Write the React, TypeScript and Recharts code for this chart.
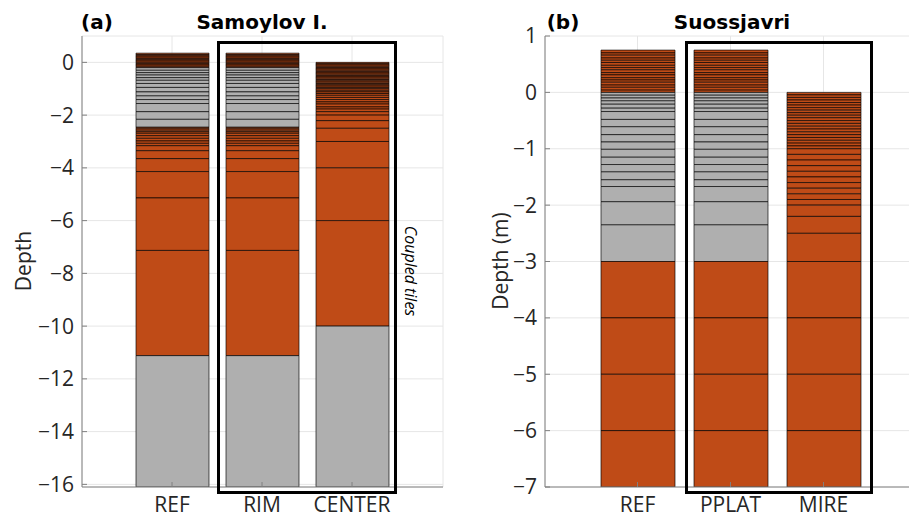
import { BarChart, Bar, XAxis, YAxis, CartesianGrid, Cell } from "recharts";

// site names on the x axis
const samoylovSites = ["REF", "RIM", "CENTER"];
const suossjavriSites = ["REF", "PPLAT", "MIRE"];

// layer boundaries in m, top to bottom
const samoylovRefBounds = [
  0.35, 0.3, 0.25, 0.2, 0.15, 0.1, 0.05, 0, -0.05, -0.1, -0.15, -0.2,
  -0.3, -0.39, -0.48, -0.58, -0.68, -0.8, -0.95, -1.12, -1.27, -1.41, -1.56, -1.87, -2.16, -2.46,
  -2.5, -2.57, -2.63, -2.69, -2.78, -2.88, -2.98, -3.07, -3.16, -3.35, -3.65, -4.14, -5.14, -7.13, -11.12,
  -16.1,
];
const samoylovRefZoneTops = [0.35, -0.2, -2.46, -11.12];
const samoylovRefZoneSoil = ["S", "G", "S", "G"];

const samoylovCenterBounds = [
  0, -0.05, -0.1, -0.15, -0.2, -0.25, -0.3, -0.35, -0.4, -0.45, -0.5, -0.55, -0.6, -0.65, -0.7,
  -0.75, -0.8, -0.85, -0.9, -0.95, -1.0, -1.06, -1.12, -1.18, -1.25, -1.33, -1.41, -1.5, -1.58,
  -1.69, -1.77, -1.87, -2.0, -2.21, -2.5, -3.0, -4.0, -6.0, -10.0, -16.1,
];
const samoylovCenterZoneTops = [0, -10];
const samoylovCenterZoneSoil = ["S", "G"];

const suossjavriRefBounds = [
  0.75, 0.7, 0.66, 0.61, 0.57, 0.53, 0.48, 0.44, 0.4, 0.35, 0.31, 0.26, 0.22, 0.18, 0.13, 0.09, 0.04, 0,
  -0.05, -0.1, -0.15, -0.21, -0.28, -0.34, -0.48, -0.61, -0.75, -0.88, -1.01, -1.15, -1.28, -1.41,
  -1.55, -1.67, -1.94, -2.35, -3.0, -4.0, -5.0, -6.0, -7.0,
];
const suossjavriRefZoneTops = [0.75, 0, -3];
const suossjavriRefZoneSoil = ["S", "G", "S"];

const suossjavriMireBounds = [
  0, -0.045, -0.09, -0.135, -0.18, -0.225, -0.27, -0.315, -0.36, -0.405, -0.45, -0.5, -0.55, -0.6,
  -0.65, -0.7, -0.75, -0.8, -0.85, -0.9, -0.95, -1.0, -1.1, -1.2, -1.3, -1.4, -1.5, -1.6, -1.7, -1.8,
  -1.9, -2.0, -2.2, -2.5, -3.0, -4.0, -5.0, -6.0, -7.0,
];
const suossjavriMireZoneTops = [0];
const suossjavriMireZoneSoil = ["S"];

const samoylovTicks = [-16, -14, -12, -10, -8, -6, -4, -2, 0];
const suossjavriTicks = [-7, -6, -5, -4, -3, -2, -1, 0, 1];

const soilColor: Record<string, string> = { S: "#bf4b17", G: "#afafaf" };

type Column = { bounds: number[]; zoneTops: number[]; zoneSoil: string[] };

const samoylovColumns: Column[] = [
  { bounds: samoylovRefBounds, zoneTops: samoylovRefZoneTops, zoneSoil: samoylovRefZoneSoil },
  { bounds: samoylovRefBounds, zoneTops: samoylovRefZoneTops, zoneSoil: samoylovRefZoneSoil },
  { bounds: samoylovCenterBounds, zoneTops: samoylovCenterZoneTops, zoneSoil: samoylovCenterZoneSoil },
];
const suossjavriColumns: Column[] = [
  { bounds: suossjavriRefBounds, zoneTops: suossjavriRefZoneTops, zoneSoil: suossjavriRefZoneSoil },
  { bounds: suossjavriRefBounds, zoneTops: suossjavriRefZoneTops, zoneSoil: suossjavriRefZoneSoil },
  { bounds: suossjavriMireBounds, zoneTops: suossjavriMireZoneTops, zoneSoil: suossjavriMireZoneSoil },
];

function layerColor(c: Column, i: number) {
  const top = c.bounds[i];
  if (top === undefined) return "none";
  let k = 0;
  c.zoneTops.forEach((z, j) => {
    if (z >= top - 1e-9) k = j;
  });
  return soilColor[c.zoneSoil[k]];
}

const fmt = (v: number) => (v < 0 ? `\u2212${-v}` : `${v}`);
const tickFont = { fill: "#262626", fontSize: 21, fontFamily: "Open Sans" };
const axisGray = { stroke: "#808080" };

function Panel({ sites, columns, domain, ticks, width, yAxisWidth, rightMargin, barSize, pad }: any) {
  const rows = sites.map((name: string, ci: number) => {
    const b = columns[ci].bounds;
    const r: any = { name, base: b[0] };
    for (let i = 0; i < b.length - 1; i++) r["L" + i] = b[i + 1] - b[i];
    return r;
  });
  const n = Math.max(...columns.map((c: Column) => c.bounds.length - 1));

  return (
    <BarChart width={width} height={518} data={rows} margin={{ top: 36, right: rightMargin, bottom: 0, left: 0 }}>
      <CartesianGrid stroke="#e6e6e6" />
      <XAxis dataKey="name" padding={pad} height={31} tickSize={-5} tickMargin={15} interval={0}
        axisLine={axisGray} tickLine={axisGray} tick={tickFont} />
      <XAxis xAxisId="top" orientation="top" dataKey="name" padding={pad} height={0} tickSize={-5}
        interval={0} tickFormatter={() => ""} axisLine={axisGray} tickLine={axisGray} />
      <YAxis type="number" domain={domain} ticks={ticks} allowDataOverflow width={yAxisWidth} tickSize={-5}
        tickMargin={13} interval={0} tickFormatter={fmt} axisLine={axisGray} tickLine={axisGray} tick={tickFont} />
      <YAxis yAxisId="right" orientation="right" type="number" domain={domain} ticks={ticks} allowDataOverflow
        width={0} tickSize={-5} interval={0} tickFormatter={() => ""} axisLine={axisGray} tickLine={axisGray} />
      <Bar dataKey="base" stackId="s" fill="none" barSize={barSize} isAnimationActive={false} />
      {Array.from({ length: n }, (_, i) => (
        <Bar key={i} dataKey={"L" + i} stackId="s" barSize={barSize} stroke="rgba(0,0,0,0.65)"
          strokeWidth={1} isAnimationActive={false}>
          {columns.map((c: Column, ci: number) => (
            <Cell key={ci} fill={layerColor(c, i)} />
          ))}
        </Bar>
      ))}
    </BarChart>
  );
}

function Label({ x, y, rot = 0, style, children }: any) {
  return (
    <div style={{
      position: "absolute", left: x, top: y, whiteSpace: "nowrap", lineHeight: 1,
      transform: `translate(-50%, -50%) rotate(${rot}deg)`, ...style,
    }}>
      {children}
    </div>
  );
}

const titleFont = { fontFamily: "DejaVu Sans", fontWeight: "bold", fontSize: 20, color: "#000" };
const axisLabelFont = { fontFamily: "Open Sans", fontSize: 21, color: "#262626" };

export default function App() {
  return (
    <div style={{ position: "absolute", left: 0, top: 0, width: 909, height: 518, overflow: "hidden", background: "#fff" }}>
      <div style={{ position: "absolute", left: 0, top: 0 }}>
        <Panel sites={samoylovSites} columns={samoylovColumns} domain={[-16.1, 1]} ticks={samoylovTicks}
          width={460} yAxisWidth={82} rightMargin={17} barSize={73} pad={{ left: 45, right: 46 }} />
      </div>
      <div style={{ position: "absolute", left: 460, top: 0 }}>
        <Panel sites={suossjavriSites} columns={suossjavriColumns} domain={[-7, 1]} ticks={suossjavriTicks}
          width={470} yAxisWidth={85} rightMargin={13} barSize={74} pad={{ left: 46, right: 47 }} />
      </div>

      {/* coupled-tile frames */}
      <div style={{ position: "absolute", left: 217, top: 41, width: 180, height: 453, border: "3px solid #000", boxSizing: "border-box" }} />
      <div style={{ position: "absolute", left: 685, top: 41, width: 188, height: 453, border: "3px solid #000", boxSizing: "border-box" }} />

      <Label x={97} y={22} style={titleFont}>(a)</Label>
      <Label x={262} y={22} style={titleFont}>Samoylov I.</Label>
      <Label x={563} y={22} style={titleFont}>(b)</Label>
      <Label x={732} y={22} style={titleFont}>Suossjavri</Label>
      <Label x={23} y={261} rot={-90} style={axisLabelFont}>Depth</Label>
      <Label x={500} y={261} rot={-90} style={axisLabelFont}>Depth (m)</Label>
      <Label x={411} y={271} rot={90} style={{ fontFamily: "Open Sans", fontStyle: "italic", fontSize: 16, color: "#000" }}>
        Coupled tiles
      </Label>
    </div>
  );
}
